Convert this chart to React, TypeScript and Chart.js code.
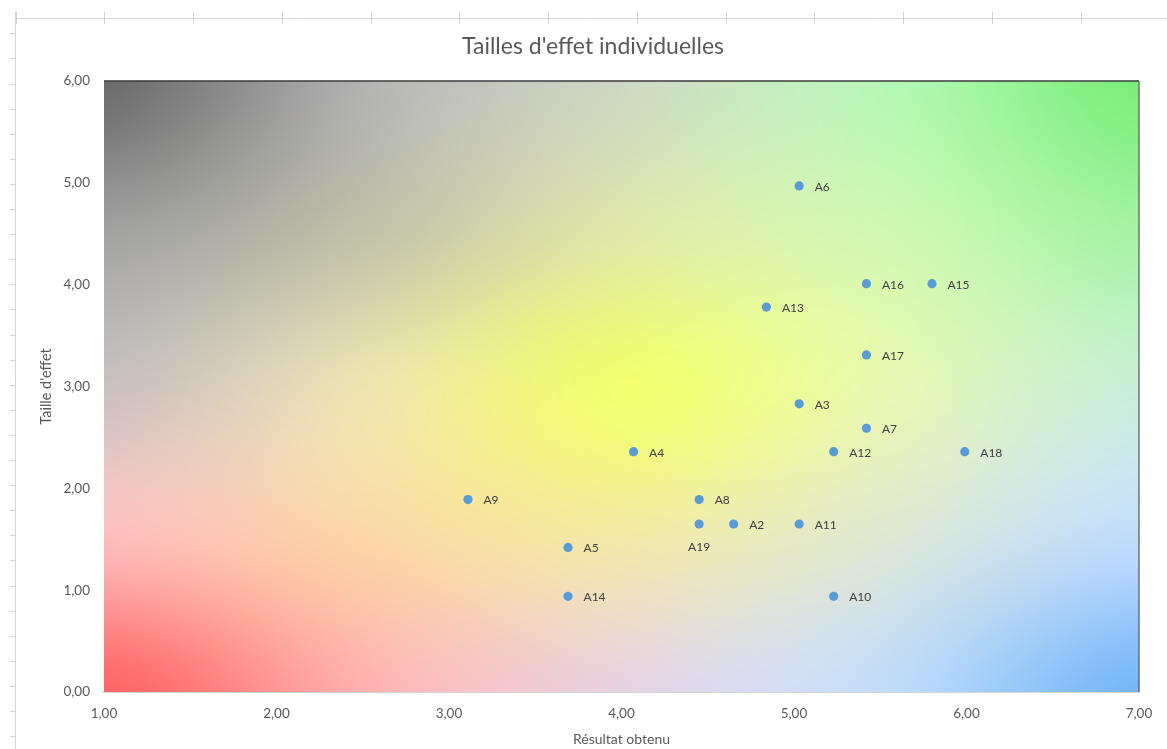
import { useEffect, useRef } from "react";
import { Chart, registerables } from "chart.js";

Chart.register(...registerables);

// Individual effect sizes, one entry per participant
const participants = ["A2", "A3", "A4", "A5", "A6", "A7", "A8", "A9", "A10", "A11", "A12", "A13", "A14", "A15", "A16", "A17", "A18", "A19"];
const resultatObtenu = [4.65, 5.03, 4.07, 3.69, 5.03, 5.42, 4.45, 3.11, 5.23, 5.03, 5.23, 4.84, 3.69, 5.8, 5.42, 5.42, 5.99, 4.45];
const tailleEffet = [1.65, 2.83, 2.36, 1.42, 4.97, 2.59, 1.89, 1.89, 0.94, 1.65, 2.36, 3.78, 0.94, 4.01, 4.01, 3.31, 2.36, 1.65];
const labelsBelow = ["A19"];

const xTicks = [1, 2, 3, 4, 5, 6, 7];
const yTicks = [0, 1, 2, 3, 4, 5, 6];

const chartTitle = "Tailles d'effet individuelles";
const xTitle = "Résultat obtenu";
const yTitle = "Taille d'effet";

const FONT = "Lato, 'Open Sans', sans-serif";
const TEXT = "#595959";

// Colour mesh for the plot-area fill (rows top→bottom, columns left→right)
const MESH = [
  ["6c6c6c", "b2b2b2", "cdd8c2", "b6f6b6", "7cee7c"],
  ["a2a2a2", "c2c2aa", "e0e8a8", "d2f8b4", "a6f2a6"],
  ["cac0c0", "ece4b0", "f0fe70", "e8f8b0", "c8eed8"],
  ["ffbcbc", "fad6a8", "f2eaa8", "dfe8d4", "c0dcfc"],
  ["ff6464", "ffb0b0", "e6d2e2", "c2dcfa", "76b6f6"],
];

const fmt = (v: number) => v.toFixed(2).replace(".", ",");

function hex(c: string): number[] {
  return [parseInt(c.slice(0, 2), 16), parseInt(c.slice(2, 4), 16), parseInt(c.slice(4, 6), 16)];
}

function cubic(p0: number, p1: number, p2: number, p3: number, t: number) {
  const t2 = t * t, t3 = t2 * t;
  return 0.5 * (2 * p1 + (-p0 + p2) * t + (2 * p0 - 5 * p1 + 4 * p2 - p3) * t2 + (-p0 + 3 * p1 - 3 * p2 + p3) * t3);
}

function interp(arr: number[], s: number) {
  const n = arr.length - 1;
  const x = Math.min(Math.max(s * n, 0), n - 1e-9);
  const i = Math.floor(x);
  const t = x - i;
  const g = (k: number) => arr[Math.min(Math.max(k, 0), n)];
  return cubic(g(i - 1), g(i), g(i + 1), g(i + 2), t);
}

function buildFill(w: number, h: number): HTMLCanvasElement {
  const c = document.createElement("canvas");
  c.width = w;
  c.height = h;
  const ctx = c.getContext("2d")!;
  const img = ctx.createImageData(w, h);
  const grid = MESH.map((row) => row.map(hex));
  const rows = grid.length;
  for (let x = 0; x < w; x++) {
    const u = x / (w - 1);
    // column values for each row, per channel
    const col: number[][] = [[], [], []];
    for (let r = 0; r < rows; r++) {
      for (let ch = 0; ch < 3; ch++) {
        col[ch].push(interp(grid[r].map((p) => p[ch]), u));
      }
    }
    for (let y = 0; y < h; y++) {
      const v = y / (h - 1);
      const idx = (y * w + x) * 4;
      for (let ch = 0; ch < 3; ch++) {
        img.data[idx + ch] = Math.max(0, Math.min(255, Math.round(interp(col[ch], v))));
      }
      img.data[idx + 3] = 255;
    }
  }
  ctx.putImageData(img, 0, 0);
  return c;
}

const decorPlugin = {
  id: "decor",
  beforeDraw(chart: any) {
    const { ctx, width, height } = chart;
    ctx.save();
    ctx.fillStyle = "#ffffff";
    ctx.fillRect(0, 0, width, height);
    // page ruler along the top and left
    ctx.strokeStyle = "#d4d4d4";
    ctx.lineWidth = 1;
    ctx.beginPath();
    ctx.moveTo(16, 18.5);
    ctx.lineTo(width, 18.5);
    ctx.moveTo(15.5, 12);
    ctx.lineTo(15.5, height);
    for (let k = 0; k < 13; k++) {
      const x = Math.round(15.5 + 88.75 * k) + 0.5;
      ctx.moveTo(x, 12);
      ctx.lineTo(x, 24);
    }
    for (let k = 0; k < 29; k++) {
      const y = Math.round(33.3 + 25.1 * k) + 0.5;
      ctx.moveTo(10, y);
      ctx.lineTo(16, y);
    }
    ctx.stroke();
    // title
    ctx.fillStyle = TEXT;
    ctx.font = `23px ${FONT}`;
    ctx.textAlign = "center";
    ctx.textBaseline = "alphabetic";
    ctx.fillText(chartTitle, 593, 54);
    ctx.restore();
  },
  beforeDatasetsDraw(chart: any) {
    const { ctx, chartArea } = chart;
    const { left, top, right, bottom } = chartArea;
    const w = Math.round(right - left);
    const h = Math.round(bottom - top);
    if (!chart.$fill || chart.$fill.width !== w || chart.$fill.height !== h) {
      chart.$fill = buildFill(w, h);
    }
    ctx.save();
    ctx.drawImage(chart.$fill, left, top);
    ctx.strokeStyle = "#3a3a3a";
    ctx.lineWidth = 1.5;
    ctx.beginPath();
    ctx.moveTo(left, top);
    ctx.lineTo(right, top);
    ctx.stroke();
    ctx.strokeStyle = "#555555";
    ctx.lineWidth = 1.2;
    ctx.beginPath();
    ctx.moveTo(right, top);
    ctx.lineTo(right, bottom);
    ctx.stroke();
    ctx.restore();
  },
  afterDatasetsDraw(chart: any) {
    const { ctx } = chart;
    const meta = chart.getDatasetMeta(0);
    ctx.save();
    ctx.fillStyle = "#404040";
    ctx.font = `12px ${FONT}`;
    meta.data.forEach((pt: any, i: number) => {
      const name = participants[i];
      if (labelsBelow.includes(name)) {
        ctx.textAlign = "center";
        ctx.textBaseline = "middle";
        ctx.fillText(name, pt.x, pt.y + 23);
      } else {
        ctx.textAlign = "left";
        ctx.textBaseline = "middle";
        ctx.fillText(name, pt.x + 15.5, pt.y + 1);
      }
    });
    ctx.restore();
  },
};

export default function App() {
  const canvasRef = useRef<HTMLCanvasElement | null>(null);

  useEffect(() => {
    const canvas = canvasRef.current;
    if (!canvas) return;
    const chart = new Chart(canvas, {
      type: "scatter",
      data: {
        datasets: [
          {
            label: yTitle,
            data: resultatObtenu.map((x, i) => ({ x, y: tailleEffet[i] })),
            backgroundColor: "#5b9bd5",
            borderColor: "#5b9bd5",
            borderWidth: 0,
            pointRadius: 4.6,
          },
        ],
      },
      options: {
        responsive: false,
        animation: false,
        layout: { padding: { top: 81, right: 28, left: 0, bottom: 0 } },
        plugins: {
          legend: { display: false },
          tooltip: { enabled: false },
          title: { display: false },
        },
        scales: {
          x: {
            type: "linear",
            min: xTicks[0],
            max: xTicks[xTicks.length - 1],
            afterBuildTicks: (s: any) => {
              s.ticks = xTicks.map((value) => ({ value }));
            },
            afterFit: (s: any) => {
              s.height = 57;
            },
            ticks: {
              color: TEXT,
              font: { family: FONT, size: 13.5 },
              padding: 14,
              maxRotation: 0,
              callback: (v: any) => fmt(Number(v)),
            },
            grid: { display: false, drawTicks: false },
            border: { display: true, color: "#d6d6d6", width: 2 },
            title: {
              display: true,
              text: xTitle,
              color: TEXT,
              font: { family: FONT, size: 14 },
              padding: { top: 0, bottom: 1 },
            },
          },
          y: {
            type: "linear",
            min: yTicks[0],
            max: yTicks[yTicks.length - 1],
            afterBuildTicks: (s: any) => {
              s.ticks = yTicks.map((value) => ({ value }));
            },
            afterFit: (s: any) => {
              s.width = 104;
            },
            ticks: {
              color: TEXT,
              font: { family: FONT, size: 13.5 },
              padding: 14,
              callback: (v: any) => fmt(Number(v)),
            },
            grid: { display: false, drawTicks: false },
            border: { display: true, color: "#d6d6d6", width: 1 },
            title: {
              display: true,
              text: yTitle,
              color: TEXT,
              font: { family: FONT, size: 14.5 },
              padding: { top: 38, bottom: 0 },
            },
          },
        },
      },
      plugins: [decorPlugin],
    });
    return () => chart.destroy();
  }, []);

  return (
    <div style={{ position: "fixed", left: 0, top: 0, width: 1167, height: 749, background: "#ffffff" }}>
      <canvas ref={canvasRef} width={1167} height={749} style={{ display: "block" }} />
    </div>
  );
}
